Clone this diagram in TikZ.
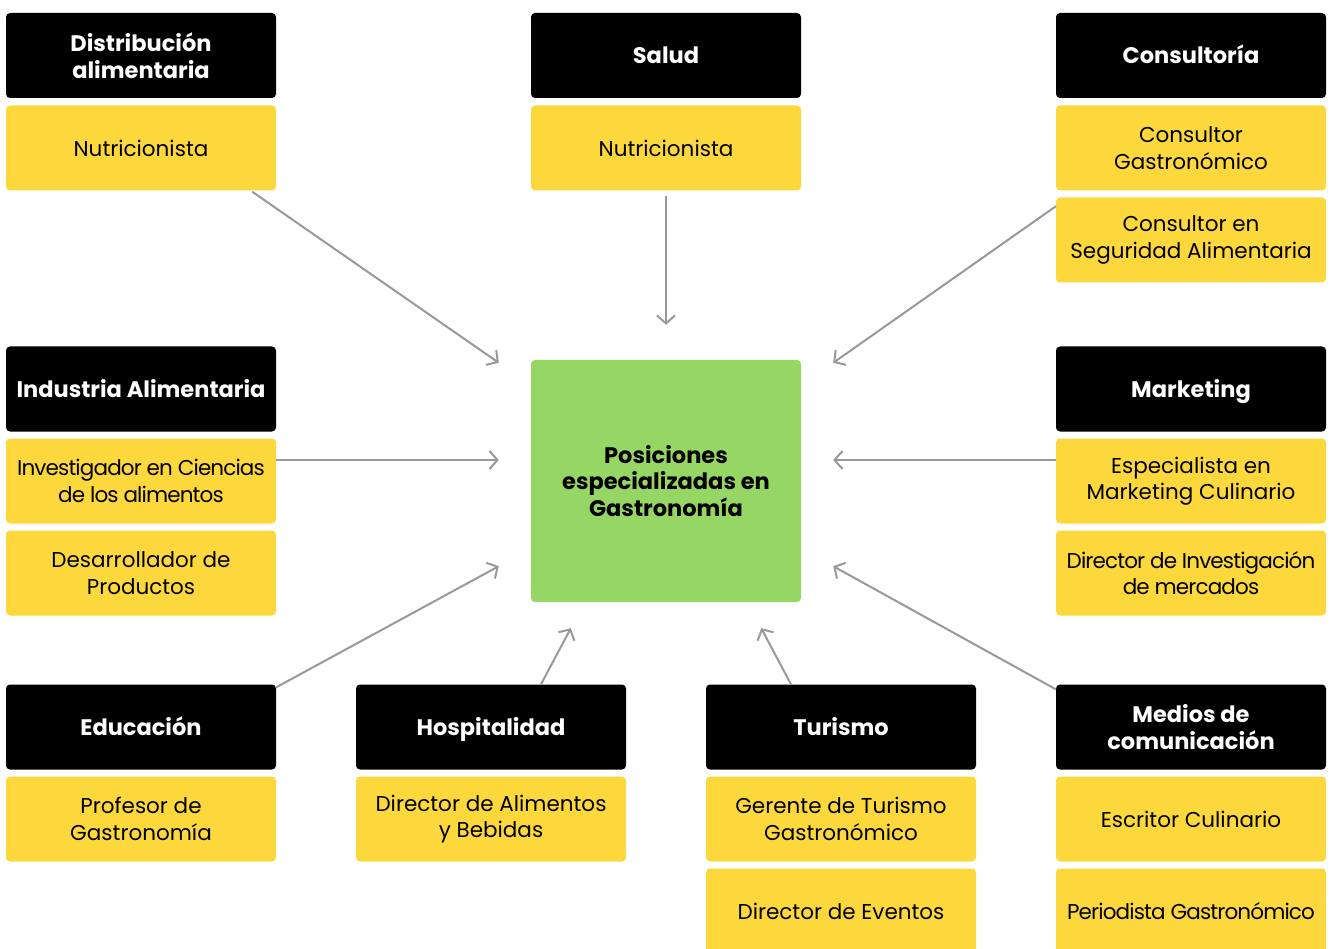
\documentclass[tikz,border=0pt]{standalone}
\usepackage{fontspec}
\setmainfont{Poppins}
\usetikzlibrary{arrows.meta,calc}
\definecolor{ylw}{HTML}{FDD83D}
\definecolor{grn}{HTML}{96D665}
\definecolor{arrgray}{HTML}{999999}
\tikzset{
  box/.style={rounded corners=4pt, minimum width=270pt, minimum height=85pt, inner sep=0pt, align=center},
  hd/.style={box, fill=black, text=white, font=\fontsize{22.5}{27}\selectfont\bfseries},
  one/.style={text height=20pt, text depth=3pt},
  it/.style={box, fill=ylw, text=black, font=\fontsize{21.5}{26.5}\selectfont},
  tight/.style={font=\fontsize{21.5}{26.5}\selectfont\addfontfeatures{LetterSpace=-4}},
  ctr/.style={box, fill=grn, minimum height=242pt, font=\fontsize{22.5}{26.5}\selectfont\bfseries},
  arr/.style={draw=arrgray, line width=2pt, -{Straight Barb[length=8pt,width=18pt,line width=2pt]}}
}
\begin{document}
\begin{tikzpicture}[x=1pt,y=-1pt]
\useasboundingbox (0,0) rectangle (1330,949);
% center
\node[ctr] (c) at (666,481) {Posiciones\\especializadas en\\Gastronomía};
% column 1
\node[hd] (h1) at (141,55.5) {Distribución\\alimentaria};
\node[it] (i1a) at (141,148) {Nutricionista};
\node[hd,one] (h4) at (141,389) {Industria Alimentaria};
\node[it,tight] (i4a) at (141,481) {Investigador en Ciencias\\de los alimentos};
\node[it] (i4b) at (141,573) {Desarrollador de\\Productos};
\node[hd,one] (h6) at (141,727) {Educación};
\node[it] (i6a) at (141,819) {Profesor de\\Gastronomía};
% column 2
\node[hd,one] (h2) at (666,55.5) {Salud};
\node[it] (i2a) at (666,148) {Nutricionista};
% column 3
\node[hd,one] (h3) at (1191,55.5) {Consultoría};
\node[it] (i3a) at (1191,148) {Consultor\\Gastronómico};
\node[it] (i3b) at (1191,240) {Consultor en\\Seguridad Alimentaria};
\node[hd,one] (h5) at (1191,389) {Marketing};
\node[it] (i5a) at (1191,481) {Especialista en\\Marketing Culinario};
\node[it,tight] (i5b) at (1191,573) {Director de Investigación\\de mercados};
\node[hd] (h9) at (1191,727) {Medios de\\comunicación};
\node[it] (i9a) at (1191,819) {Escritor Culinario};
\node[it,tight] (i9b) at (1191,911) {Periodista Gastronómico};
% bottom middle
\node[hd,one] (h7) at (491,727) {Hospitalidad};
\node[it] (i7a) at (491,819) {Director de Alimentos\\y Bebidas};
\node[hd,one] (h8) at (841,727) {Turismo};
\node[it] (i8a) at (841,819) {Gerente de Turismo\\Gastronómico};
\node[it] (i8b) at (841,911) {Director de Eventos};
% arrows
\draw[arr] ($(i1a.south east)+(-24,1)$) -- ($(c.north west)+(-32,3)$);
\draw[arr] ($(i2a.south)+(0,5)$) -- ($(c.north)+(0,-35)$);
\draw[arr] ($(i3b.north west)+(0,9)$) -- ($(c.north east)+(32,3)$);
\draw[arr] ($(i4a.east)+(0,-21)$) -- ($(c.west)+(-32,-21)$);
\draw[arr] ($(i5a.west)+(0,-21)$) -- ($(c.east)+(32,-21)$);
\draw[arr] ($(h6.north east)+(0,3)$) -- ($(c.south west)+(-32,-36)$);
\draw[arr] ($(h7.north)+(50,0)$) -- ($(c.south west)+(40,26)$);
\draw[arr] ($(h8.north)+(-50,0)$) -- ($(c.south east)+(-40,26)$);
\draw[arr] ($(h9.north west)+(0,5)$) -- ($(c.south east)+(32,-36)$);
\end{tikzpicture}
\end{document}
